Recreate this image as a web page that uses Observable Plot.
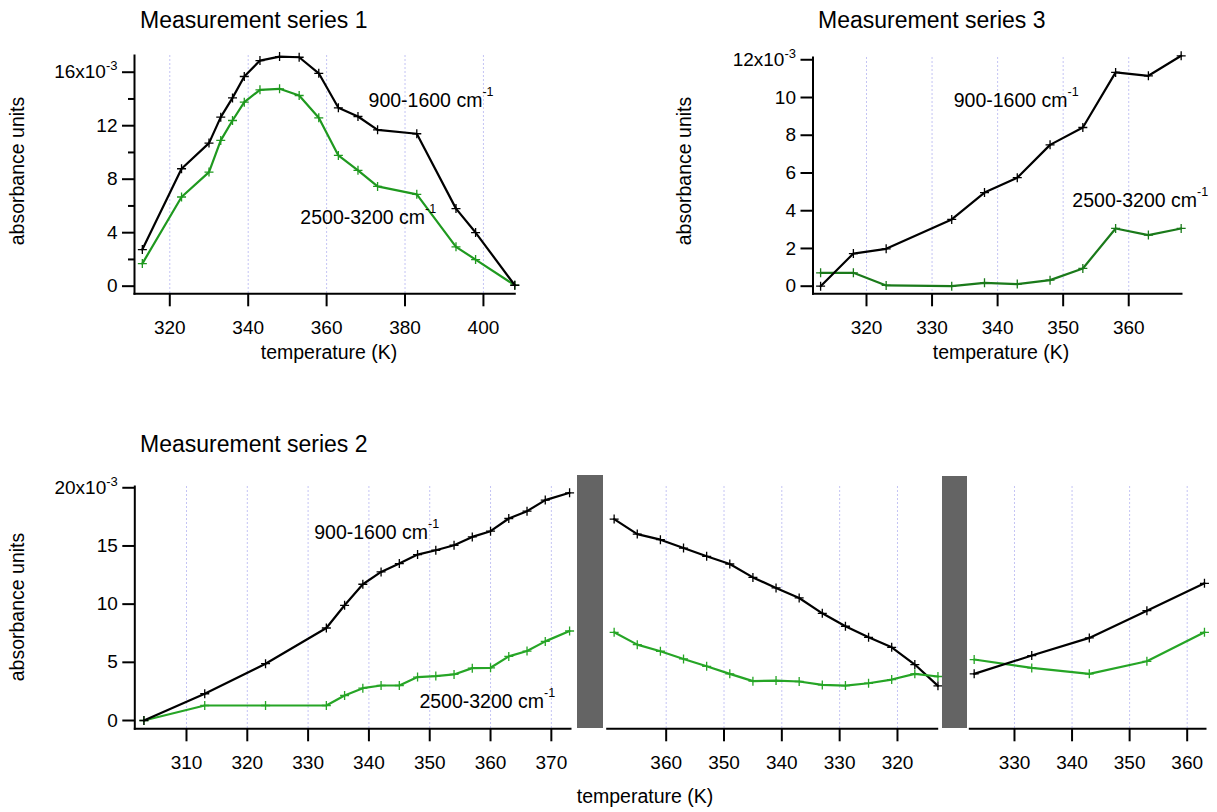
<!DOCTYPE html>
<html><head><meta charset="utf-8">
<script src="https://cdn.jsdelivr.net/npm/d3@7"></script>
<script src="https://cdn.jsdelivr.net/npm/@observablehq/plot@0.6"></script>
<style>
body{margin:0;background:#fff;}
#root{position:relative;width:1217px;height:812px;overflow:hidden;font-family:"Liberation Sans",Arial,sans-serif;color:#000;}
.t{position:absolute;white-space:nowrap;line-height:1;}
.brk{position:absolute;background:#646464;}
.pl{position:absolute;}
</style></head><body><div id="root"></div>
<script>
// ---------------- DATA (absorbance in units of 10^-3) ----------------
// Measurement series 1
const s1Temp   = [313,323,330,333,336,339,343,348,353,358,363,368,373,383,393,398,408];
const s1Band1  = [2.74,8.78,10.70,12.64,14.08,15.68,16.87,17.17,17.12,15.92,13.34,12.69,11.69,11.40,5.80,4.01,0.07]; // 900-1600 cm-1
const s1Band2  = [1.69,6.67,8.53,10.90,12.39,13.76,14.68,14.76,14.26,12.59,9.78,8.66,7.46,6.87,2.94,1.99,0.07];      // 2500-3200 cm-1
// Measurement series 3
const s3Temp   = [313,318,323,333,338,343,348,353,358,363,368];
const s3Band1  = [0.00,1.73,1.98,3.54,4.96,5.75,7.49,8.41,11.33,11.15,12.21];
const s3Band2  = [0.71,0.71,0.04,0.00,0.18,0.11,0.32,0.94,3.06,2.71,3.06];
// Measurement series 2 : heating 1, cooling, heating 2
const s2aTemp  = [303,313,323,333,336,339,342,345,348,351,354,357,360,363,366,369,373];
const s2aBand1 = [0.00,2.30,4.88,7.95,9.90,11.71,12.77,13.49,14.26,14.63,15.06,15.78,16.27,17.36,17.99,18.94,19.57];
const s2aBand2 = [0.00,1.29,1.29,1.29,2.15,2.78,3.01,3.01,3.73,3.82,3.96,4.50,4.53,5.51,5.97,6.80,7.69];
const s2bTemp  = [369,365,361,357,353,349,345,341,337,333,329,325,321,317,313];
const s2bBand1 = [17.31,16.02,15.54,14.82,14.11,13.45,12.30,11.39,10.53,9.21,8.10,7.15,6.29,4.81,2.98];
const s2bBand2 = [7.58,6.52,5.95,5.29,4.66,4.01,3.38,3.43,3.35,3.06,3.00,3.20,3.52,4.01,3.78];
const s2cTemp  = [323,333,343,353,363];
const s2cBand1 = [4.01,5.58,7.10,9.44,11.79];
const s2cBand2 = [5.24,4.52,4.01,5.09,7.58];
// tick values
const s1XTicks = [320,340,360,380,400];
const s1YTicks = [0,4,8,12,16];
const s1YMinor = [2,6,10,14];
const s3XTicks = [320,330,340,350,360];
const s3YTicks = [0,2,4,6,8,10,12];
const s2aXTicks = [310,320,330,340,350,360,370];
const s2bXTicks = [360,350,340,330,320];
const s2cXTicks = [330,340,350,360];
const s2YTicks = [0,5,10,15,20];
// texts
const bandNames = ["900-1600 cm", "2500-3200 cm"];
const titles = ["Measurement series 1", "Measurement series 2", "Measurement series 3"];
const xTitle = "temperature (K)";
const yTitle = "absorbance units";

// ---------------- RENDERING ----------------
const NS = "http://www.w3.org/2000/svg";
const FONT = '"Liberation Sans", Arial, sans-serif';
const GRID = "#c4c4f4";
const root = document.getElementById("root");

const plusSymbol = {draw(ctx, size) {
  const r = Math.sqrt(size / Math.PI);
  ctx.moveTo(-r, 0); ctx.lineTo(r, 0); ctx.moveTo(0, -r); ctx.lineTo(0, r);
}};

function series(temps, vals, color) {
  const d = temps.map((t, i) => ({t, v: vals[i]}));
  return [
    Plot.line(d, {x: "t", y: "v", stroke: color, strokeWidth: 2.2}),
    Plot.dot(d, {x: "t", y: "v", symbol: plusSymbol, r: 4.5, stroke: color, strokeWidth: 1.3, fill: "none"})
  ];
}

function addSup(t, s, size, dy) {
  const sp = document.createElementNS(NS, "tspan");
  sp.setAttribute("dy", dy);
  sp.setAttribute("font-size", size);
  sp.textContent = s;
  t.appendChild(sp);
}

function makePlot(c) {
  const svg = Plot.plot({
    width: c.width, height: c.height,
    marginLeft: c.ml, marginRight: c.mr, marginTop: c.mt, marginBottom: c.mb,
    x: {domain: c.xdom, axis: null},
    y: {domain: c.ydom, axis: null},
    style: {fontFamily: FONT, fontSize: "19px", color: "black", background: "transparent", overflow: "visible"},
    marks: [
      Plot.ruleX(c.xticks, {x: d => d, stroke: GRID, strokeDasharray: "2,2", strokeWidth: 1}),
      Plot.frame({anchor: "bottom", strokeWidth: 2}),
      c.showY ? Plot.frame({anchor: "left", strokeWidth: 2}) : null,
      Plot.axisX({ticks: c.xticks, tickSize: 13, tickPadding: 14, strokeWidth: 2, label: null, fontSize: 19}),
      c.showY ? Plot.axisY({ticks: c.yticks, tickSize: 12, tickPadding: 5, strokeWidth: 2, label: null, fontSize: 19,
                            tickFormat: d => d === c.yTop ? `${d}x10` : `${d}`}) : null,
      c.yminor ? Plot.axisY({ticks: c.yminor, tickSize: 6, strokeWidth: 2, label: null, tickFormat: () => ""}) : null,
      ...c.marks,
      c.labels ? Plot.text(c.labels, {x: "x", y: "y", text: "text", textAnchor: "start", fontSize: 19.5, fill: "black"}) : null
    ]
  });
  svg.querySelectorAll("text").forEach(t => {
    if (/x10$/.test(t.textContent)) addSup(t, "-3", "13px", "-8");
    else if (/ cm$/.test(t.textContent)) addSup(t, "-1", "12.5px", "-11");
  });
  svg.classList.add("pl");
  svg.style.left = c.left + "px";
  svg.style.top = c.top + "px";
  root.appendChild(svg);
}

function htext(str, x, baseline, size, opts = {}) {
  const d = document.createElement("div");
  d.className = "t";
  d.textContent = str;
  d.style.fontSize = size + "px";
  if (opts.rotate) {
    d.style.left = (x - 0.8465 * size) + "px";
    d.style.top = baseline + "px";
    d.style.transformOrigin = "0 0";
    d.style.transform = "rotate(-90deg) translateX(-50%)";
  } else {
    d.style.left = x + "px";
    d.style.top = (baseline - 0.8465 * size) + "px";
    if (opts.center) d.style.transform = "translateX(-50%)";
  }
  root.appendChild(d);
}

const G1 = "#1f991f", G3 = "#1a7a1a", G2 = "#26a526";

// Panel: series 1
makePlot({left: 0, top: 0, width: 520, height: 345, ml: 134, mr: 5.7, mt: 55, mb: 51.7,
  xdom: [311.0, 408], ydom: [-0.57, 17.25], xticks: s1XTicks, yticks: s1YTicks, yminor: s1YMinor, yTop: 16, showY: true,
  marks: [...series(s1Temp, s1Band2, G1), ...series(s1Temp, s1Band1, "black")],
  labels: [{x: 370.7, y: 13.85, text: bandNames[0]}, {x: 353.3, y: 5.13, text: bandNames[1]}]});

// Panel: series 3
makePlot({left: 660, top: 0, width: 557, height: 345, ml: 152.5, mr: 36, mt: 57, mb: 51.7,
  xdom: [311.84, 368.05], ydom: [-0.403, 12.12], xticks: s3XTicks, yticks: s3YTicks, yTop: 12, showY: true,
  marks: [...series(s3Temp, s3Band2, G3), ...series(s3Temp, s3Band1, "black")],
  labels: [{x: 333.3, y: 9.82, text: bandNames[0]}, {x: 351.4, y: 4.52, text: bandNames[1]}]});

// Panel: series 2, three segments
const yd2 = [-0.713, 20.11];
makePlot({left: 0, top: 430, width: 575, height: 382, ml: 134.3, mr: 5, mt: 56, mb: 83.7,
  xdom: [301.5, 373.15], ydom: yd2, xticks: s2aXTicks, yticks: s2YTicks, yTop: 20, showY: true,
  marks: [...series(s2aTemp, s2aBand2, G2), ...series(s2aTemp, s2aBand1, "black")],
  labels: [{x: 331.0, y: 16.16, text: bandNames[0]}, {x: 348.3, y: 1.60, text: bandNames[1]}]});
makePlot({left: 600, top: 430, width: 340, height: 382, ml: 6.7, mr: 3.3, mt: 56, mb: 83.7,
  xdom: [370.2, 313.13], ydom: yd2, xticks: s2bXTicks, showY: false,
  marks: [...series(s2bTemp, s2bBand1, "black"), ...series(s2bTemp, s2bBand2, G2)]});
makePlot({left: 965, top: 430, width: 252, height: 382, ml: 4.3, mr: 12, mt: 56, mb: 83.7,
  xdom: [322.24, 363.18], ydom: yd2, xticks: s2cXTicks, showY: false,
  marks: [...series(s2cTemp, s2cBand2, G2), ...series(s2cTemp, s2cBand1, "black")]});

// axis-break bars
[[577.3, 475, 26, 252.7], [941.7, 476, 25, 251.7]].forEach(([x, y, w, h]) => {
  const b = document.createElement("div");
  b.className = "brk";
  Object.assign(b.style, {left: x + "px", top: y + "px", width: w + "px", height: h + "px"});
  root.appendChild(b);
});

// titles and axis titles
htext(titles[0], 140, 28.3, 23);
htext(titles[2], 818, 28.3, 23);
htext(titles[1], 140, 452, 23);
htext(xTitle, 329, 360, 19.5, {center: true});
htext(xTitle, 1001, 360, 19.5, {center: true});
htext(xTitle, 645, 804, 19.5, {center: true});
htext(yTitle, 25, 170.8, 19.5, {rotate: true});
htext(yTitle, 692, 170.8, 19.5, {rotate: true});
htext(yTitle, 25, 606.7, 19.5, {rotate: true});
</script></body></html>
